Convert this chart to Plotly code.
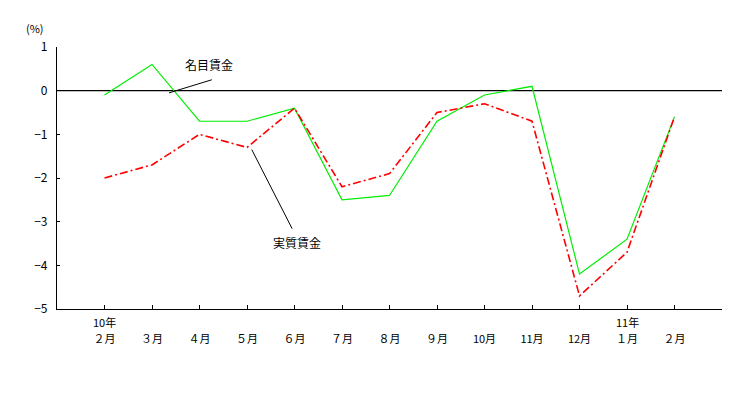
import plotly.graph_objects as go

months = ["２月", "３月", "４月", "５月", "６月", "７月", "８月", "９月", "10月", "11月", "12月", "１月", "２月"]
years = {0: "10年", 11: "11年"}
nominal = [-0.1, 0.6, -0.7, -0.7, -0.4, -2.5, -2.4, -0.7, -0.1, 0.1, -4.2, -3.4, -0.6]
real = [-2.0, -1.7, -1.0, -1.3, -0.4, -2.2, -1.9, -0.5, -0.3, -0.7, -4.7, -3.7, -0.6]
yticks = [1, 0, -1, -2, -3, -4, -5]

FONT = "Noto Sans CJK JP, MS Gothic, sans-serif"
xs = list(range(len(months)))

fig = go.Figure()
fig.add_trace(go.Scatter(x=xs, y=nominal, mode="lines", name="名目賃金",
                         line=dict(color="#00ee00", width=1.2)))
fig.add_trace(go.Scatter(x=xs, y=real, mode="lines", name="実質賃金",
                         line=dict(color="#ff0000", width=1.6, dash="8px,3px,2px,3px")))

fig.add_hline(y=0, line=dict(color="black", width=1.2), layer="below")

# year labels above month tick labels
for i, t in years.items():
    fig.add_annotation(x=i, y=-0.048, xref="x", yref="paper", text=t, showarrow=False,
                       font=dict(size=11, family=FONT, color="black"), yanchor="middle")

# series labels with leader lines
fig.add_annotation(x=2.2, y=0.6, xref="x", yref="y", text="名目賃金", showarrow=False,
                   font=dict(size=12, family=FONT, color="black"))
fig.add_shape(type="line", x0=2.26, y0=0.25, x1=1.36, y1=-0.05, xref="x", yref="y",
              line=dict(color="black", width=1))
fig.add_annotation(x=4.05, y=-3.48, xref="x", yref="y", text="実質賃金", showarrow=False,
                   font=dict(size=12, family=FONT, color="black"))
fig.add_shape(type="line", x0=3.1, y0=-1.35, x1=3.95, y1=-3.16, xref="x", yref="y",
              line=dict(color="black", width=1))

fig.add_annotation(x=-0.016, y=1.072, xref="paper", yref="paper", text="(%)", showarrow=False,
                   font=dict(size=11, family=FONT, color="black"),
                   xanchor="right", yanchor="middle")

fig.update_layout(
    width=741, height=403,
    margin=dict(l=49, r=27, t=39, b=102),
    paper_bgcolor="white", plot_bgcolor="white",
    showlegend=False,
    font=dict(family=FONT, size=12, color="black"),
)
fig.update_xaxes(range=[-1, 13], tickvals=xs + [13], ticktext=months + [""],
                 showgrid=False, zeroline=False, showline=True, linecolor="black", linewidth=1.2,
                 ticks="inside", ticklen=4, tickcolor="black", ticklabelstandoff=20,
                 tickfont=dict(size=11, family=FONT))
fig.update_yaxes(range=[-5, 1], tickvals=yticks, showgrid=False, zeroline=False,
                 showline=True, linecolor="black", linewidth=1.2,
                 ticks="inside", ticklen=3, tickcolor="black", ticklabelstandoff=6,
                 tickfont=dict(size=12, family=FONT))

fig.write_html("out.html")
